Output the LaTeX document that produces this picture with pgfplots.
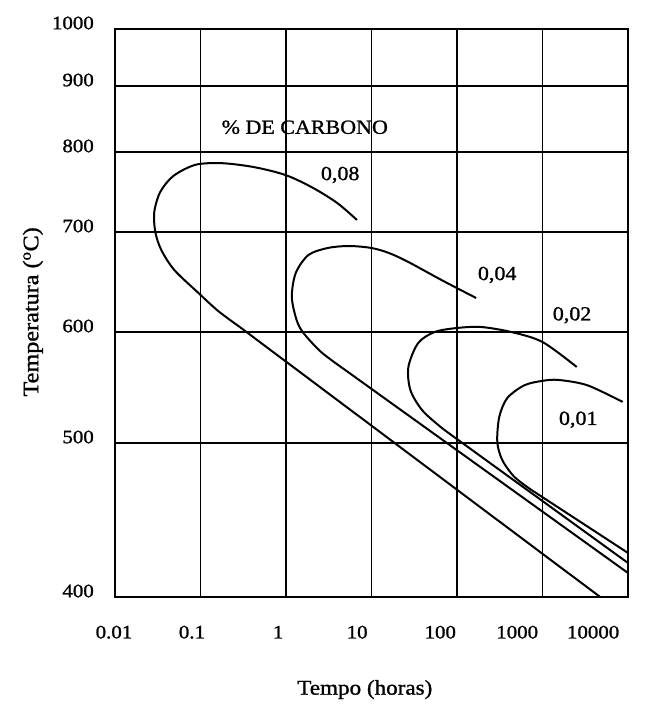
\documentclass[border=0pt]{standalone}
\usepackage{fontspec}
\setmainfont[FakeStretch=1.1,FakeBold=1.2]{Liberation Serif}
\usepackage{pgfplots}
\pgfplotsset{compat=1.18}
\tikzset{curv/.style={draw=black, line width=2pt, mark=none, solid}}
\begin{document}
\begin{tikzpicture}
\useasboundingbox (-115pt,-109pt) rectangle (537pt,597pt);
\begin{axis}[
  at={(0,0)}, anchor=south west,
  scale only axis, width=513pt, height=568pt,
  xmode=log, xmin=0.01, xmax=10000,
  ymin=400, ymax=1000,
  y coord trafo/.code={\pgfmathparse{ifthenelse(#1<500,(#1-400)*1.54,ifthenelse(#1<600,154+(#1-500)*1.11,ifthenelse(#1<700,265+(#1-600),ifthenelse(#1<800,365+(#1-700)*0.8,ifthenelse(#1<900,445+(#1-800)*0.66,511+(#1-900)*0.57)))))}},
  xtick={0.01,0.1,1,10,100,1000,10000}, xticklabels={},
  xminorticks=false, yminorticks=false,
  ytick={400,500,600,700,800,900,1000},
  yticklabels={400,500,600,700,800,900,1000},
  yticklabel style={font=\fontsize{19}{19}\selectfont, anchor=east, inner sep=0pt, xshift=-21pt, yshift=6pt},
  grid=major, major grid style={black, line width=1.3pt},
  axis line style={line width=2pt},
  major tick length=0pt,
  xlabel={Tempo (horas)},
  xlabel style={font=\fontsize{21}{21}\selectfont, at={(axis description cs:0.487,-0.163)}, anchor=center},
  ylabel={Temperatura (\textsuperscript{o}C)},
  ylabel style={font=\fontsize{22}{22}\selectfont, at={(axis description cs:-0.160,0.502)}, anchor=center},
  clip mode=individual,
]
% 0,08
\addplot[curv, smooth] table {
6.76 715
4.0 736
2.08 755
1.0 771
0.428 781
0.179 786
0.0873 784
0.0481 770
0.0338 750
0.0288 725
0.0296 700
0.0348 682
0.0494 662
0.0947 639
0.161 621
0.288 605
};
\addplot[curv, sharp plot] table {
0.288 605
4730 400
};
% 0,04
\addplot[curv, smooth] table {
167.5 634
65.8 652
27.0 670
16.0 679
10 684
5.48 686
3.08 684
1.83 677
1.30 659
1.17 635
1.33 612
1.60 599.1
2.57 582
4.56 567.6
};
\addplot[curv, sharp plot] table {
4.56 567.6
10000 415.6
};
% 0,02
\addplot[curv, smooth] table {
2512 568.5
1000 591
431 600
191 605
100 604
54.8 600
35.1 590
27.0 568.5
28.5 547.7
39.0 529.7
62.4 515.3
92.5 505.4
};
\addplot[curv, sharp plot] table {
92.5 505.4
10000 422.1
};
% 0,01
\addplot[curv, smooth] table {
8660 537
3350 552
1540 556.8
1000 556
614 552
387 540.5
312 523.4
296 500.9
338 489
469 478
743 469.5
};
\addplot[curv, sharp plot] table {
743 469.5
10000 428.6
};
\begin{scope}[every node/.style={font=\fontsize{20}{20}\selectfont, inner sep=0pt}]
\node at (axis description cs:0.370,0.827) {\% DE CARBONO};
\node at (axis description cs:0.439,0.743) {0,08};
\node at (axis description cs:0.745,0.567) {0,04};
\node at (axis description cs:0.891,0.496) {0,02};
\node at (axis description cs:0.903,0.312) {0,01};
\end{scope}
\begin{scope}[every node/.style={font=\fontsize{19}{19}\selectfont, inner sep=0pt}]
\node at (axis description cs:-0.002,-0.062) {0.01};
\node at (axis description cs:0.150,-0.062) {0.1};
\node at (axis description cs:0.318,-0.062) {1};
\node at (axis description cs:0.472,-0.062) {10};
\node at (axis description cs:0.634,-0.062) {100};
\node at (axis description cs:0.784,-0.062) {1000};
\node at (axis description cs:0.932,-0.062) {10000};
\end{scope}
\end{axis}
\end{tikzpicture}
\end{document}
